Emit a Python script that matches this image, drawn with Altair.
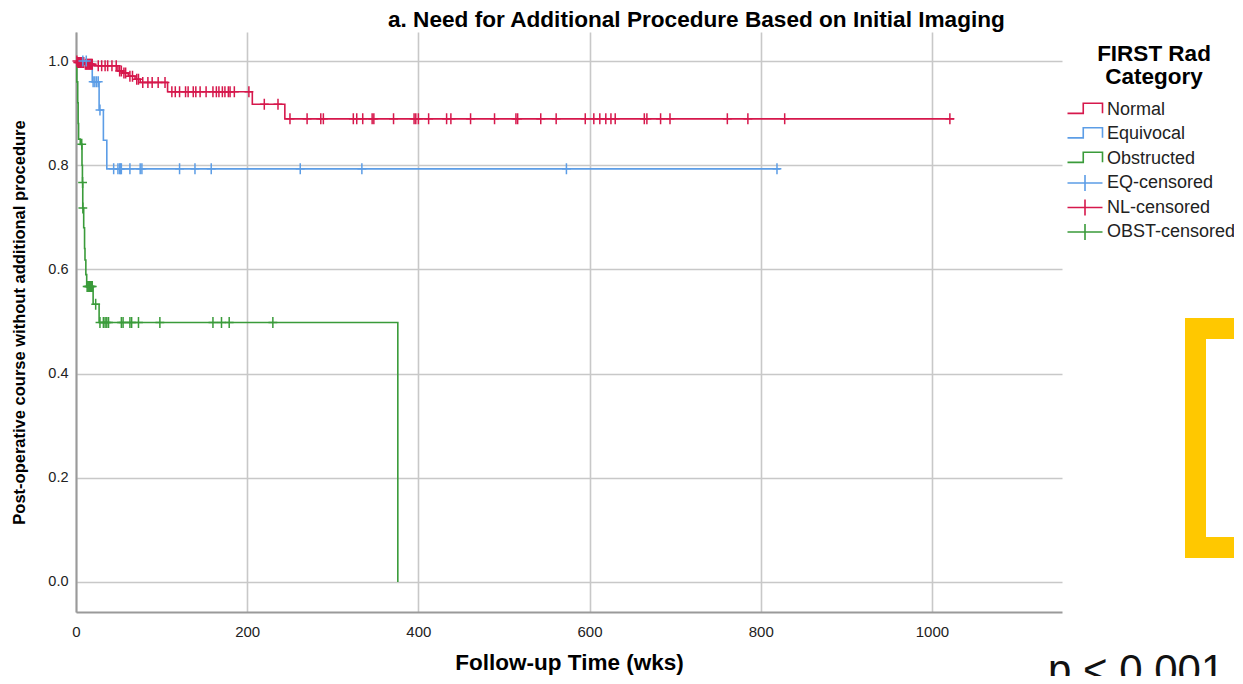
import altair as alt
import pandas as pd

# ---------------- data ----------------
groups = ["Normal", "Equivocal", "Obstructed"]
group_colors = ["#d6184c", "#5c9de6", "#3a9b3a"]

# Kaplan-Meier step curves: event times (wks) and survival after the event
normal_t = [0, 2, 10, 20, 49, 54, 61, 69, 75, 107, 206, 244, 1026]
normal_s = [1.0, 0.997, 0.994, 0.991, 0.981, 0.977, 0.971, 0.965, 0.959, 0.941, 0.917, 0.889, 0.889]

equivocal_t = [0, 19, 27, 32, 36, 823]
equivocal_s = [1.0, 0.96, 0.906, 0.848, 0.793, 0.793]

obstructed_t = [0, 1, 2, 2.5, 3, 5, 7, 7.5, 7.9, 9, 10, 10.5, 11.5, 12.5, 20, 27, 376]
obstructed_s = [1.0, 0.96, 0.92, 0.88, 0.85, 0.84, 0.80, 0.767, 0.718, 0.68, 0.64, 0.618, 0.59, 0.567, 0.533, 0.498, 0.0]

# censored observation times (wks)
normal_cens = [1, 2, 3, 4, 5, 6, 7, 8, 9, 11, 12, 13, 14, 15, 16, 17, 18, 19,
               26, 30, 34, 37, 42, 47, 51, 53, 56, 58, 63, 66, 71, 73,
               78, 84, 89, 96, 104, 112, 116, 121, 128, 131, 137, 140, 145, 152,
               160, 164, 167, 171, 174, 178, 180, 185, 202, 220, 236,
               250, 270, 286, 289, 324, 328, 335, 346, 348, 371, 395, 397, 400,
               412, 433, 438, 461, 489, 514, 516, 543, 561, 595, 605, 612, 619,
               625, 630, 664, 667, 683, 694, 761, 785, 828, 1021]
equivocal_cens = [8, 12, 20, 22, 24, 26, 28, 44, 49, 51, 52, 53, 63, 75, 77,
                  121, 139, 158, 262, 334, 573, 819]
obstructed_cens = [6.7, 7.7, 8.0, 13, 14, 15, 16, 17, 18, 19, 23,
                   28, 32, 34, 36, 38, 53, 55, 63, 65, 73, 98, 160, 170, 179, 230]

x_ticks = [0, 200, 400, 600, 800, 1000]
y_ticks = [0.0, 0.2, 0.4, 0.6, 0.8, 1.0]

legend_labels = ["Normal", "Equivocal", "Obstructed", "EQ-censored", "NL-censored", "OBST-censored"]
legend_groups = ["Normal", "Equivocal", "Obstructed", "Equivocal", "Normal", "Obstructed"]
legend_kinds = ["curve", "curve", "curve", "censor", "censor", "censor"]
legend_title = ["FIRST Rad\nCategory"]

chart_title = "a. Need for Additional Procedure Based on Initial Imaging"
x_title = "Follow-up Time (wks)"
y_title = "Post-operative course without additional procedure"
annotation_text = ["p < 0.001"]

# ---------------- tables ----------------
curves = [
    ("Normal", normal_t, normal_s, normal_cens),
    ("Equivocal", equivocal_t, equivocal_s, equivocal_cens),
    ("Obstructed", obstructed_t, obstructed_s, obstructed_cens),
]


def step_value(ts, ss, t):
    v = ss[0]
    for ti, si in zip(ts, ss):
        if ti <= t:
            v = si
        else:
            break
    return v


line_rows, cens_rows = [], []
for g, ts, ss, cs in curves:
    for i, (t, s) in enumerate(zip(ts, ss)):
        line_rows.append({"group": g, "t": t, "s": s, "i": i})
    for c in cs:
        cens_rows.append({"group": g, "t": c, "s": step_value(ts, ss, c)})

lines_df = pd.DataFrame(line_rows)
cens_df = pd.DataFrame(cens_rows)
legend_df = pd.DataFrame({"label": legend_labels, "group": legend_groups,
                          "kind": legend_kinds, "row": list(range(len(legend_labels)))})

# ---------------- chart ----------------
color_scale = alt.Scale(domain=groups, range=group_colors)
x_enc = alt.X("t:Q", scale=alt.Scale(domain=[0, 1152], nice=False, zero=False),
              axis=alt.Axis(values=x_ticks, format="d", title=x_title, labelFontSize=15, labelPadding=12,
                            titleFontSize=22.5, titlePadding=12, labelFlush=False))
y_enc = alt.Y("s:Q", scale=alt.Scale(domain=[-0.0576, 1.0557], nice=False, zero=False),
              axis=alt.Axis(values=y_ticks, format=".1f", title=y_title, labelFontSize=14.5,
                            labelPadding=8, titleFontSize=16.5, titlePadding=20))

CENSOR_PATH = "M0,-1L0,1M-0.8,0L0.8,0"
STEP_PATH = "M-1,0.22L-0.1,0.22L-0.1,-0.36L1,-0.36L1,0.22"
CROSS_PATH = "M-1,0L1,0M0,-0.46L0,0.46"

line_layer = alt.Chart(lines_df).mark_line(interpolate="step-after", strokeWidth=1.6).encode(
    x=x_enc, y=y_enc,
    color=alt.Color("group:N", scale=color_scale, legend=None),
    order=alt.Order("i:Q"),
    detail="group:N",
)
cens_layer = alt.Chart(cens_df).mark_point(shape=CENSOR_PATH, filled=False, size=121,
                                           strokeWidth=1.5, opacity=1).encode(
    x="t:Q", y="s:Q",
    color=alt.Color("group:N", scale=color_scale, legend=None),
)
main = alt.layer(line_layer, cens_layer)

y_leg = alt.Y("row:Q", scale=alt.Scale(domain=[0, 5], range=[77.5, 200]), axis=None)
leg_sym = alt.Chart(legend_df).mark_point(filled=False, size=1225, strokeWidth=1.6, opacity=1).encode(
    x=alt.value(1009), y=y_leg,
    color=alt.Color("group:N", scale=color_scale, legend=None),
    shape=alt.Shape("kind:N", scale=alt.Scale(domain=["curve", "censor"], range=[STEP_PATH, CROSS_PATH]),
                    legend=None),
)
leg_lab = alt.Chart(legend_df).mark_text(align="left", baseline="middle", fontSize=18, color="#222222").encode(
    x=alt.value(1031), y=y_leg, text="label:N"
)
legend_layer = alt.layer(leg_sym, leg_lab)

leg_title = alt.Chart(pd.DataFrame({"t": legend_title})).mark_text(
    align="center", baseline="alphabetic", fontSize=22.5, fontWeight="bold",
    lineBreak="\n", lineHeight=23, color="#000000"
).encode(x=alt.value(1078), y=alt.value(28.5), text="t:N")

bracket = alt.Chart(pd.DataFrame({"k": [0]})).mark_rect(
    fill=None, stroke="#ffc800", strokeWidth=21, fillOpacity=0
).encode(x=alt.value(1119.5), x2=alt.value(1400), y=alt.value(296.5), y2=alt.value(515.5))

p_text = alt.Chart(pd.DataFrame({"p": annotation_text})).mark_text(
    align="left", baseline="alphabetic", fontSize=42, color="#111111"
).encode(x=alt.value(972), y=alt.value(652), text="p:N")

chart = alt.layer(main, legend_layer, leg_title, bracket, p_text).resolve_scale(
    y="independent"
).properties(
    width=986, height=580,
    title=alt.TitleParams(chart_title, anchor="start", dx=312, offset=0, fontSize=22.6,
                          fontWeight="bold", color="#000000", frame="group"),
    autosize=alt.AutoSizeParams(type="none"),
    padding={"left": 68, "top": 24, "right": 172, "bottom": 64},
).configure(
    font="Liberation Sans"
).configure_view(
    stroke=None
).configure_axis(
    grid=True, gridColor="#c8c8c8", gridWidth=1.6,
    domainColor="#9a9a9a", domainWidth=2, ticks=False,
    labelColor="#222222", titleColor="#000000", titleFontWeight="bold",
)

chart.save("out.html", embed_options={"renderer": "svg", "actions": False})
